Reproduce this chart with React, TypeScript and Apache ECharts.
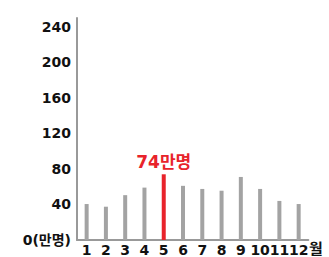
import React, { useEffect, useRef } from "react";
import * as echarts from "echarts";

const months = ["1", "2", "3", "4", "5", "6", "7", "8", "9", "10", "11", "12"];
const visitors = [40.5, 37.5, 50.5, 59, 74, 61, 57.5, 55.5, 71, 57.5, 44, 40.5];
const highlightIndex = 4;
const highlightLabel = "74만명";
const yTicks = [0, 40, 80, 120, 160, 200, 240];
const yUnit = "0(만명)";
const xUnit = "월";

const FONT = "'DejaVu Sans', 'Noto Sans CJK KR', sans-serif";

export default function App() {
  const ref = useRef<HTMLDivElement>(null);
  useEffect(() => {
    if (!ref.current) return;
    const chart = echarts.init(ref.current, null, { renderer: "svg" });
    chart.setOption({
      animation: false,
      backgroundColor: "#ffffff",
      grid: { left: 77, right: 20.7, top: 18, bottom: 17, containLabel: false },
      xAxis: {
        type: "category",
        data: months,
        boundaryGap: true,
        axisLine: { lineStyle: { color: "#999999", width: 2 } },
        axisTick: { show: false },
        axisLabel: {
          color: "#111111",
          fontFamily: FONT,
          fontWeight: "bold",
          fontSize: 14,
          margin: 3,
          interval: 0,
        },
      },
      yAxis: {
        type: "value",
        min: 0,
        max: 250,
        interval: 40,
        splitLine: { show: false },
        axisTick: { show: false },
        axisLine: { show: true, lineStyle: { color: "#999999", width: 2 } },
        axisLabel: {
          color: "#111111",
          fontFamily: FONT,
          fontWeight: "bold",
          fontSize: 14,
          margin: 6,
          showMaxLabel: false,
          formatter: (v: number) =>
            v === 0 ? yUnit : yTicks.includes(v) ? String(v) : "",
        },
      },
      series: [
        {
          type: "bar",
          barWidth: 4,
          data: visitors.map((v, i) =>
            i === highlightIndex
              ? {
                  value: v,
                  itemStyle: { color: "#e8232b" },
                  label: {
                    show: true,
                    position: "top",
                    distance: 4,
                    formatter: highlightLabel,
                    color: "#e8232b",
                    fontFamily: FONT,
                    fontWeight: "bold",
                    fontSize: 17,
                  },
                }
              : { value: v, itemStyle: { color: "#a3a3a3" } }
          ),
        },
      ],
      graphic: [
        {
          type: "text",
          left: 309,
          top: 241,
          style: {
            text: xUnit,
            fill: "#111111",
            font: `bold 15px ${FONT}`,
          },
        },
      ],
    });
    return () => chart.dispose();
  }, []);
  return (
    <div
      ref={ref}
      style={{ position: "fixed", left: 0, top: 0, width: 329, height: 257, background: "#fff" }}
    />
  );
}
